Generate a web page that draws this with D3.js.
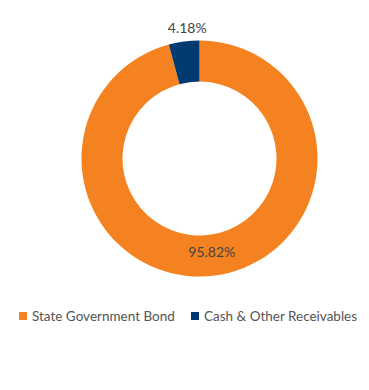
<!DOCTYPE html>
<html><head><meta charset="utf-8">
<script src="https://cdn.jsdelivr.net/npm/d3@7"></script>
<style>body{margin:0;background:#fff;}svg{display:block;font-family:Lato,sans-serif;}</style>
</head><body>
<script>
const categories = ["State Government Bond", "Cash & Other Receivables"];
const values = [95.82, 4.18];
const labels = ["95.82%", "4.18%"];
const colors = ["#F58220", "#003A70"];

const W = 369, H = 390;
const cx = 199.5, cy = 158.5, rOuter = 118, rInner = 77;
const svg = d3.select("body").append("svg").attr("width", W).attr("height", H);
const pie = d3.pie().sort(null).value(d => d)(values);
const arc = d3.arc().innerRadius(rInner).outerRadius(rOuter);
const g = svg.append("g").attr("transform", `translate(${cx},${cy})`);
g.selectAll("path").data(pie).join("path")
  .attr("d", arc).attr("fill", (d, i) => colors[i]);

const inLabel = d3.arc().innerRadius(94).outerRadius(94);
const outLabel = d3.arc().innerRadius(132).outerRadius(132);
g.selectAll("text.lbl").data(pie).join("text").attr("class", "lbl")
  .attr("transform", (d, i) => {
    const big = (d.endAngle - d.startAngle) > 0.5;
    const p = big ? inLabel.centroid(d) : outLabel.centroid(d);
    return `translate(${p[0] + (big ? 0 : 5)},${p[1]})`;
  })
  .attr("text-anchor", "middle").attr("dy", "0.35em")
  .attr("font-size", 14).attr("fill", "#444")
  .text((d, i) => labels[i]);

const legendX = d3.scalePoint().domain(categories).range([19, 191]);
const legend = svg.append("g");
categories.forEach((c, i) => {
  const x = legendX(c);
  legend.append("rect").attr("x", x).attr("y", 312).attr("width", 8).attr("height", 8).attr("fill", colors[i]);
  legend.append("text").attr("x", x + 13).attr("y", 321).attr("font-size", 13.5).attr("fill", "#555").text(c);
});
</script>
</body></html>
